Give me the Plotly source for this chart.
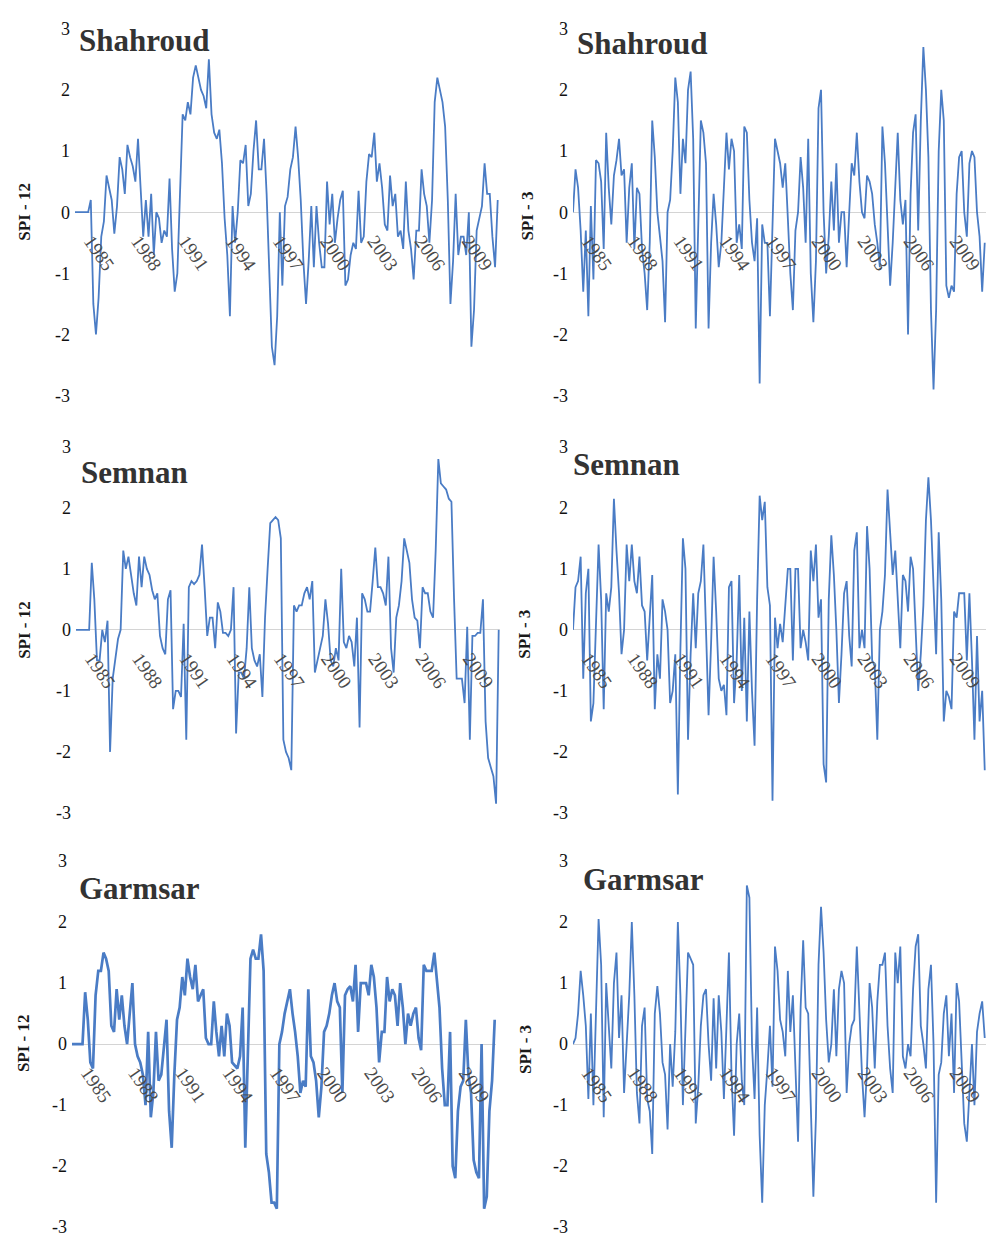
import pandas as pd
import plotly.graph_objects as go

# ---------------- data (bi-monthly samples, Jan 1984 .. Nov 2010) ----------------
dates = pd.date_range("1984-01-01", periods=162, freq="2MS")
tick_years = [1985, 1988, 1991, 1994, 1997, 2000, 2003, 2006, 2009]
tick_dates = [f"{y}-01-01" for y in tick_years]
tick_text = [str(y) for y in tick_years]
y_ticks = [-3, -2, -1, 0, 1, 2, 3]
y_tick_text = ["-3", "-2", "-1", "0", "1", "2", "3"]

shahroud_spi12 = [
    0, 0, 0, 0, 0, 0,
    0.2, -1.5, -2.0, -1.4, -0.4, -0.15,
    0.6, 0.4, 0.2, -0.35, 0.1, 0.9,
    0.7, 0.3, 1.1, 0.9, 0.75, 0.5,
    1.2, 0.4, -0.4, 0.2, -0.4, 0.3,
    -0.7, 0.0, -0.1, -0.5, -0.3, -0.4,
    0.55, -0.6, -1.3, -1.0, 0.5, 1.6,
    1.5, 1.8, 1.6, 2.2, 2.4, 2.2,
    2.0, 1.9, 1.7, 2.5, 1.6, 1.3,
    1.2, 1.35, 0.8, -0.1, -0.7, -1.7,
    0.1, -0.5, 0.0, 0.85, 0.8, 1.1,
    0.1, 0.3, 1.0, 1.5, 0.7, 0.7,
    1.2, 0.3, -0.8, -2.2, -2.5, -1.7,
    0.0, -1.2, 0.1, 0.25, 0.7, 0.9,
    1.4, 0.9, 0.2, -0.8, -1.5, -0.8,
    0.1, -0.9, 0.1, -0.5, -0.9, -0.9,
    0.5, -0.2, 0.3, -0.5, -0.1, 0.2,
    0.35, -1.2, -1.1, -0.7, -0.5, -0.6,
    0.35, -0.5, -0.4, 0.5, 0.95, 0.9,
    1.3, 0.5, 0.8, 0.4, -0.2, -0.3,
    0.6, 0.1, 0.3, -0.4, -0.3, -0.6,
    0.5, -0.3, -0.6, -1.1, -0.3, -0.3,
    0.7, 0.3, 0.1, -0.5, 0.2, 1.8,
    2.2, 2.0, 1.8, 1.4, 0.2, -1.5,
    -0.8, 0.3, -0.7, -0.4, -0.4, -0.7,
    0.0, -2.2, -1.6, -0.3, -0.1, 0.1,
    0.8, 0.3, 0.3, -0.4, -0.9, 0.2,
]

shahroud_spi3 = [
    0.0, 0.7, 0.4, -0.3, -1.3, -0.3,
    -1.7, 0.1, -1.1, 0.85, 0.8, 0.5,
    -0.6, 1.3, 0.4, -0.2, 0.6, 0.85,
    1.2, 0.6, 0.7, -0.5, 0.4, 0.8,
    -0.6, 0.4, 0.3, -0.6, -1.0, -1.6,
    -0.5, 1.5, 0.9, 0.0, -0.4, -0.8,
    -1.8, 0.0, 0.2, 1.0, 2.2, 1.8,
    0.3, 1.2, 0.8, 2.0, 2.3, 1.2,
    -1.9, 0.0, 1.5, 1.3, 0.8, -1.9,
    -0.5, 0.3, -0.2, -0.9, -0.5, 0.4,
    1.3, 0.7, 1.2, 1.0, -0.5, -0.2,
    -0.6, 1.4, 1.3, 0.2, -0.5, -0.8,
    -0.1, -2.8, -0.2, -0.5, -0.5, -1.7,
    0.0, 1.2, 1.0, 0.8, 0.4, 0.8,
    -0.1, -1.0, -1.6, -0.3, 0.0, 0.9,
    0.4, -0.5, 1.2, -1.0, -1.8, -0.8,
    1.7, 2.0, 0.0, -1.0, -0.4, 0.5,
    -0.3, 0.8, -0.5, 0.0, 0.0, -0.9,
    0.0, 0.8, 0.6, 1.3, 0.5, 0.0,
    -0.1, 0.6, 0.5, 0.3, -0.2, -0.5,
    -0.9, 1.4, 0.8, -0.2, -1.2, -0.5,
    0.5, 1.3, 0.2, -0.2, 0.2, -2.0,
    0.3, 1.3, 1.6, -0.3, 1.5, 2.7,
    2.0, 0.9, -1.6, -2.9, -1.6, 1.0,
    2.0, 1.5, -1.2, -1.4, -1.2, -1.3,
    0.3, 0.9, 1.0, 0.0, -0.4, 0.8,
    1.0, 0.9, 0.0, -0.4, -1.3, -0.5,
]

semnan_spi12 = [
    0, 0, 0, 0, 0, 0,
    1.1, 0.5, -0.5, -0.5, 0.0, -0.2,
    0.15, -2.0, -0.8, -0.5, -0.15, 0.0,
    1.3, 1.0, 1.2, 0.9, 0.6, 0.4,
    1.2, 0.7, 1.2, 1.0, 0.9, 0.65,
    0.5, 0.6, -0.1, -0.3, -0.4, 0.5,
    0.65, -1.3, -1.0, -1.0, -1.1, 0.1,
    -1.8, 0.7, 0.8, 0.75, 0.8, 0.9,
    1.4, 0.7, -0.1, 0.2, 0.2, -0.3,
    0.45, 0.3, -0.05, -0.05, -0.1, 0.0,
    0.7, -1.7, -0.7, -0.7, -0.8, -0.3,
    0.7, -0.3, -0.5, -0.6, -0.4, -1.1,
    0.2, 1.0, 1.75, 1.8, 1.85, 1.8,
    1.5, -1.8, -2.0, -2.1, -2.3, 0.4,
    0.3, 0.4, 0.4, 0.6, 0.7, 0.5,
    0.8, -0.7, -0.5, -0.3, -0.1, 0.5,
    0.1, -0.5, -0.6, -0.3, -0.5, 1.0,
    -0.2, -0.3, -0.1, -0.2, -0.6, 0.2,
    -1.6, 0.6, 0.5, 0.3, 0.3, 0.8,
    1.35, 0.7, 0.7, 0.6, 0.4, 1.2,
    -0.3, -0.7, 0.2, 0.4, 0.8, 1.5,
    1.3, 1.1, 0.5, 0.2, 0.15, -0.3,
    0.7, 0.6, 0.6, 0.3, 0.2, 1.3,
    2.8, 2.4, 2.35, 2.3, 2.15, 2.1,
    0.5, -0.8, -0.8, -0.8, -1.2, 0.05,
    -1.8, -0.1, -0.1, -0.05, -0.05, 0.5,
    -1.5, -2.1, -2.25, -2.4, -2.85, 0.0,
]

semnan_spi3 = [
    0.0, 0.7, 0.8, 1.2, -0.8, 0.6,
    1.0, -1.5, -1.2, 0.0, 1.4, 0.5,
    -1.3, 0.6, 0.3, 0.7, 2.15, 1.3,
    0.6, -0.4, 0.0, 1.4, 0.8, 1.4,
    0.8, 0.6, 1.2, 0.4, 0.3, -0.5,
    0.3, 0.9, -1.3, -0.4, -0.8, 0.5,
    0.3, 0.0, -1.2, -1.0, -0.4, -2.7,
    -0.3, 1.5, 1.0, -1.8, -0.4, 0.6,
    -0.3, 0.6, 0.8, 1.4, 0.0, -1.4,
    -0.2, 1.2, 0.3, -0.8, -1.0, -0.9,
    -1.4, 0.7, 0.8, -1.2, -0.5, 0.9,
    -1.0, 0.2, -1.5, 0.3, -1.0, -1.9,
    0.5, 2.2, 1.8, 2.1, 0.7, 0.4,
    -2.8, 0.2, -0.3, 0.1, -0.2, 0.5,
    1.0, 1.0, -0.5, 1.0, 1.0, -0.3,
    0.0, -0.2, -0.5, 1.3, 0.8, 1.4,
    0.2, 0.5, -2.2, -2.5, 0.5, 1.55,
    0.9, 0.0, -1.2, -0.4, 0.6, 0.8,
    -0.1, -0.6, 1.3, 1.6, -0.3, 0.0,
    -0.3, 1.7, 1.0, -0.5, -0.6, -1.8,
    0.0, 0.3, 0.9, 2.3, 1.5, 0.9,
    1.3, 0.4, -0.3, 0.9, 0.8, 0.3,
    1.2, 1.0, -0.1, -1.0, -0.4, 0.4,
    1.8, 2.5, 1.8, 0.6, -0.4, 1.6,
    0.5, -1.5, -1.0, -1.1, -1.3, 0.3,
    0.2, 0.6, 0.6, 0.6, -0.5, 0.6,
    -0.5, -1.8, -0.1, -1.5, -1.0, -2.3,
]

garmsar_spi12 = [
    0, 0, 0, 0, 0, 0.85,
    0.4, -0.3, -0.4, 0.8, 1.2, 1.2,
    1.5, 1.4, 1.2, 0.3, 0.2, 0.9,
    0.4, 0.8, 0.3, 0.0, 0.5, 1.0,
    0.0, -0.2, -0.3, -0.5, -1.0, 0.2,
    -1.2, -0.8, 0.2, -0.6, -0.5, 0.0,
    0.4, -1.1, -1.7, -0.5, 0.4, 0.6,
    1.1, 0.8, 1.4, 1.1, 0.9, 1.3,
    0.7, 0.8, 0.9, 0.1, 0.0, 0.0,
    0.7, 0.2, -0.2, 0.3, -0.2, 0.5,
    0.3, -0.3, -0.35, -0.4, -0.2, 0.6,
    -1.7, -0.2, 1.4, 1.55, 1.4, 1.4,
    1.8, 1.2, -1.8, -2.1, -2.6, -2.6,
    -2.7, 0.0, 0.2, 0.5, 0.7, 0.9,
    0.5, 0.2, -0.2, -0.8, -0.6, -0.7,
    0.9, -0.2, -0.3, -0.6, -1.2, -0.7,
    0.2, 0.3, 0.5, 0.8, 1.0, 0.7,
    0.6, -0.8, 0.8, 0.9, 0.95, 0.7,
    1.3, 0.2, 1.0, 1.0, 1.0, 0.8,
    1.3, 1.1, 0.6, -0.3, 0.2, 0.2,
    1.1, 0.7, 0.9, 0.8, 0.3, 1.0,
    0.6, 0.0, 0.5, 0.3, 0.5, 0.6,
    0.1, -0.1, 1.3, 1.2, 1.2, 1.2,
    1.5, 1.0, 0.6, -0.4, -1.0, -1.0,
    0.2, -2.0, -2.2, -1.1, -0.7, -0.6,
    0.4, -0.5, -0.8, -1.9, -2.1, -2.2,
    0.0, -2.7, -2.5, -1.1, -0.6, 0.4,
]

garmsar_spi3 = [
    0.0, 0.1, 0.5, 1.2, 0.8, 0.3,
    -0.9, 0.5, -1.0, 0.5, 2.05, 1.3,
    -1.2, 1.0, 0.3, -0.4, 1.0, 1.5,
    0.1, 0.8, -0.8, 0.0, 0.8, 2.0,
    0.8, -0.8, -1.3, 0.3, 0.6, -0.9,
    -1.1, -1.8, 0.5, 0.95, 0.5, -0.3,
    -0.5, -1.4, 0.0, -0.7, 0.2, 2.0,
    0.8, -1.0, 0.3, 1.5, 1.4, 1.3,
    -1.3, -0.7, 0.3, 0.8, 0.9, 0.0,
    -0.6, 0.75, -0.4, 0.8, 0.2, -0.9,
    0.3, 1.5, -0.5, -1.5, 0.0, 0.5,
    -0.6, -1.0, 2.6, 2.4, 0.0, -0.9,
    0.6, -1.5, -2.6, -1.0, -0.4, 0.3,
    -0.7, 1.6, 1.2, 0.4, 0.2, -0.2,
    1.2, 0.2, 0.8, -0.5, -1.6, 0.6,
    1.7, 0.6, 0.5, -1.0, -2.5, -1.2,
    1.3, 2.25, 1.5, 0.4, -0.3, 0.0,
    0.9, -0.2, 0.9, 1.2, 1.0, -0.8,
    0.0, 0.3, 0.4, 1.6, 0.5, -0.5,
    -1.2, -0.4, 1.0, 0.6, -0.4, 0.7,
    1.3, 1.3, 1.5, 0.3, -0.4, -0.8,
    1.5, 1.0, 1.6, -0.2, -0.4, 0.0,
    -0.2, 0.9, 1.6, 1.8, 0.3, 0.0,
    -0.4, 0.9, 1.3, 0.0, -2.6, -0.5,
    -0.3, 0.5, 0.8, -0.2, 0.5, -0.8,
    1.0, 0.7, -0.3, -1.3, -1.6, -0.8,
    0.0, -1.0, 0.2, 0.5, 0.7, 0.1,
]

# ---------------- layout (pixel geometry of each panel) ----------------
W, H = 992, 1244
SERIF = "Liberation Serif, Times New Roman, serif"
LINE_COLOR = "#4a7cc5"

panels = [
    dict(y=shahroud_spi12, xpx=(75, 499), ypx=(19, 392), title="Shahroud", tpos=(77, 31),
         ylab="SPI - 12", lpos=(25, 205), lw=1.8),
    dict(y=shahroud_spi3, xpx=(573, 986), ypx=(19, 392), title="Shahroud", tpos=(575, 34),
         ylab="SPI - 3", lpos=(528, 210), lw=1.8),
    dict(y=semnan_spi12, xpx=(76, 500), ypx=(444, 816), title="Semnan", tpos=(79, 470),
         ylab="SPI - 12", lpos=(25, 630), lw=1.8),
    dict(y=semnan_spi3, xpx=(573, 986), ypx=(444, 816), title="Semnan", tpos=(571, 462),
         ylab="SPI - 3", lpos=(525, 635), lw=1.8),
    dict(y=garmsar_spi12, xpx=(72, 496), ypx=(865, 1237), title="Garmsar", tpos=(77, 893),
         ylab="SPI - 12", lpos=(23, 1050), lw=2.7),
    dict(y=garmsar_spi3, xpx=(573, 986), ypx=(865, 1237), title="Garmsar", tpos=(581, 884),
         ylab="SPI - 3", lpos=(525, 1057), lw=1.8),
]

fig = go.Figure()
annotations = []
layout_axes = {}

for i, p in enumerate(panels, start=1):
    sx = "" if i == 1 else str(i)
    fig.add_trace(go.Scatter(
        x=dates, y=p["y"], mode="lines",
        line=dict(color=LINE_COLOR, width=p["lw"]),
        xaxis="x" + sx, yaxis="y" + sx, showlegend=False, hoverinfo="skip",
    ))
    x0, x1 = p["xpx"]
    y0, y1 = p["ypx"]
    zero_paper = 1 - ((y0 + y1) / 2) / H
    layout_axes["xaxis" + sx] = dict(
        domain=[x0 / W, x1 / W],
        range=["1984-01-01", "2010-12-01"],
        anchor="free", position=zero_paper,
        showgrid=False, zeroline=False, showline=False, ticks="",
        tickmode="array", tickvals=tick_dates, ticktext=tick_text,
        tickangle=55, ticklabelstandoff=13,
        tickfont=dict(family=SERIF, size=19, color="#4a4a4a"),
    )
    layout_axes["yaxis" + sx] = dict(
        domain=[1 - y1 / H, 1 - y0 / H],
        range=[-3, 3], anchor="x" + sx,
        showgrid=False, showline=False, ticks="",
        zeroline=True, zerolinecolor="#d4d4d4", zerolinewidth=1.2,
        tickmode="array", tickvals=y_ticks, ticktext=y_tick_text,
        tickfont=dict(family=SERIF, size=18, color="#111111"),
        ticklabelstandoff=4,
    )
    annotations.append(dict(
        text=p["title"], xref="paper", yref="paper",
        x=p["tpos"][0] / W, y=1 - p["tpos"][1] / H,
        xanchor="left", yanchor="middle", showarrow=False,
        font=dict(family=SERIF, size=31, color="#333333", weight="bold"),
    ))
    annotations.append(dict(
        text=p["ylab"], xref="paper", yref="paper",
        x=p["lpos"][0] / W, y=1 - p["lpos"][1] / H,
        xanchor="center", yanchor="middle", showarrow=False, textangle=-90,
        font=dict(family=SERIF, size=17, color="#1a1a1a", weight="bold"),
    ))

fig.update_layout(
    width=W, height=H, autosize=False,
    margin=dict(l=0, r=0, t=0, b=0),
    paper_bgcolor="white", plot_bgcolor="white",
    annotations=annotations,
    **layout_axes,
)

fig.write_html(
    "out.html",
    config={"displayModeBar": False},
    post_script="document.body.style.margin='0px';",
)
